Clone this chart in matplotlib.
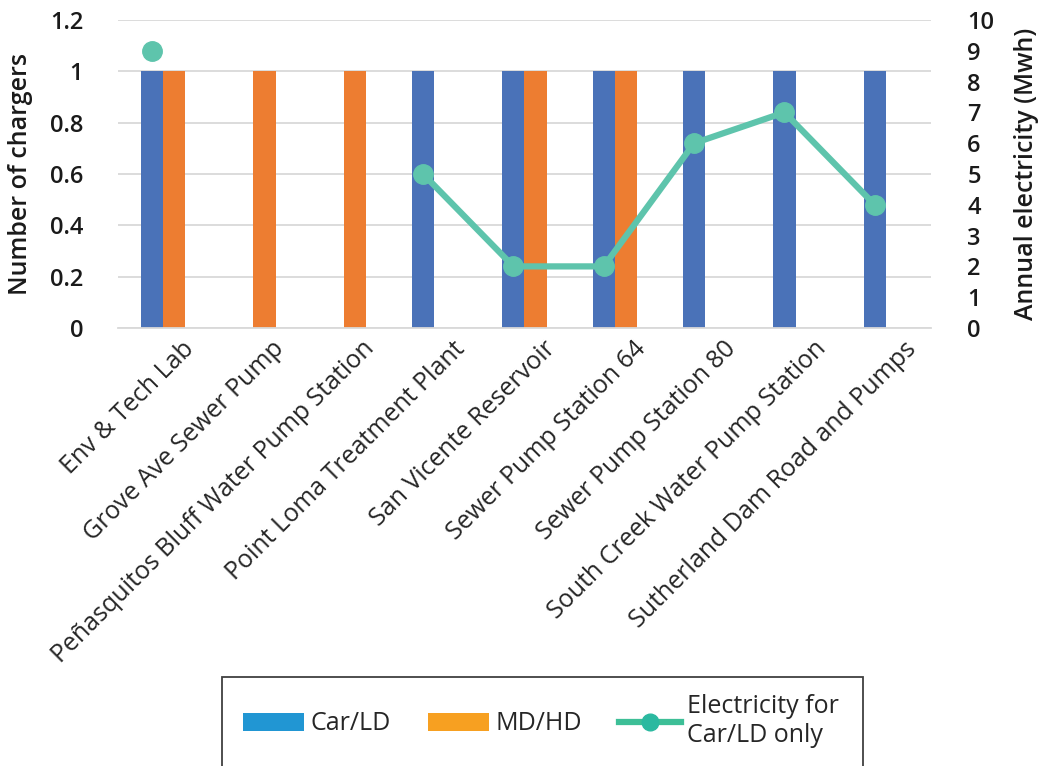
import numpy as np
import matplotlib.pyplot as plt
import matplotlib.transforms as mtransforms
from matplotlib.patches import Patch, Rectangle
from matplotlib.lines import Line2D

sites = [
    "Env & Tech Lab",
    "Grove Ave Sewer Pump",
    "Peñasquitos Bluff Water Pump Station",
    "Point Loma Treatment Plant",
    "San Vicente Reservoir",
    "Sewer Pump Station 64",
    "Sewer Pump Station 80",
    "South Creek Water Pump Station",
    "Sutherland Dam Road and Pumps",
]
car_ld = [1, 0, 0, 1, 1, 1, 1, 1, 1]
md_hd = [1, 1, 1, 0, 1, 1, 0, 0, 0]
electricity_mwh = [9, np.nan, np.nan, 5, 2, 2, 6, 7, 4]

BLUE = "#4a72b8"
ORANGE = "#ed7d31"
GREEN = "#5ec4ac"
LEG_BLUE = "#2196d3"
LEG_ORANGE = "#f7a021"
LEG_GREEN = "#3dbf97"
TEXT = "#1a1a1a"

plt.rcParams["font.family"] = ["Open Sans", "DejaVu Sans"]

fig = plt.figure(figsize=(10.42, 7.66), dpi=100)
ax = fig.add_axes([0.1132, 0.5718, 0.7803, 0.4021])

x = np.arange(len(sites))
w = 0.245
ax.bar(x - w / 2, car_ld, width=w, color=BLUE, zorder=2)
ax.bar(x + w / 2, md_hd, width=w, color=ORANGE, zorder=2)

ax.set_xlim(-0.5, len(sites) - 0.5)
ax.set_ylim(0, 1.2)
ax.set_yticks([0, 0.2, 0.4, 0.6, 0.8, 1, 1.2])
ax.set_yticklabels(["0", "0.2", "0.4", "0.6", "0.8", "1", "1.2"])
ax.grid(axis="y", color="#d9d9d9", linewidth=1.3, zorder=0)
ax.set_axisbelow(True)
for s in ["top", "right", "left"]:
    ax.spines[s].set_visible(False)
ax.spines["bottom"].set_color("#d9d9d9")
ax.spines["bottom"].set_linewidth(1.3)
ax.tick_params(axis="both", length=0)
ax.tick_params(axis="y", labelsize=17, labelcolor=TEXT, pad=25)
for lbl in ax.get_yticklabels():
    lbl.set_fontweight("semibold")
ax.set_xticks(x)
ax.set_xticklabels(sites, rotation=45, ha="right", rotation_mode="anchor",
                   fontsize=18, color="#262626")
ax.tick_params(axis="x", pad=6)
shift = mtransforms.ScaledTranslation(18 / 100, 0, fig.dpi_scale_trans)
for lbl in ax.get_xticklabels():
    lbl.set_transform(lbl.get_transform() + shift)
ax.set_ylabel("Number of chargers", fontsize=18, fontweight="semibold",
              color=TEXT)
ax.yaxis.set_label_coords(-0.104, 0.5)

ax2 = ax.twinx()
ax2.plot(x - w / 2, electricity_mwh, color=GREEN, linewidth=4.5,
         marker="o", markersize=14, zorder=3)
ax2.set_ylim(0, 10)
ax2.set_yticks(np.arange(0, 11, 1))
for s in ["top", "right", "left", "bottom"]:
    ax2.spines[s].set_visible(False)
ax2.tick_params(axis="y", length=0, labelsize=17, labelcolor=TEXT, pad=26)
for lbl in ax2.get_yticklabels():
    lbl.set_fontweight("semibold")
ax2.set_ylabel("Annual electricity (Mwh)", fontsize=18, fontweight="semibold",
               color=TEXT, labelpad=14)

# Legend frame runs past the lower figure edge
fig.patches.append(Rectangle((222 / 1042, -0.05), (863 - 222) / 1042, 0.05 + (766 - 677) / 766,
                             transform=fig.transFigure, fill=False,
                             edgecolor="#404040", linewidth=1.3))
handles = [
    Patch(facecolor=LEG_BLUE, edgecolor="none"),
    Patch(facecolor=LEG_ORANGE, edgecolor="none"),
    Line2D([0], [0], color=LEG_GREEN, linewidth=4.5, marker="o",
           markersize=12, markerfacecolor="#2bb9a0", markeredgecolor="#2bb9a0"),
]
fig.legend(handles, ["Car/LD", "MD/HD", "Electricity for\nCar/LD only"],
           loc="center left", bbox_to_anchor=(225 / 1042, 1 - 721 / 766),
           ncol=3, frameon=False, fontsize=18, labelcolor="#262626",
           handlelength=2.45, handleheight=0.75, handletextpad=0.25,
           columnspacing=1.5, borderpad=0.2)

fig.savefig("out.png", dpi=100)
